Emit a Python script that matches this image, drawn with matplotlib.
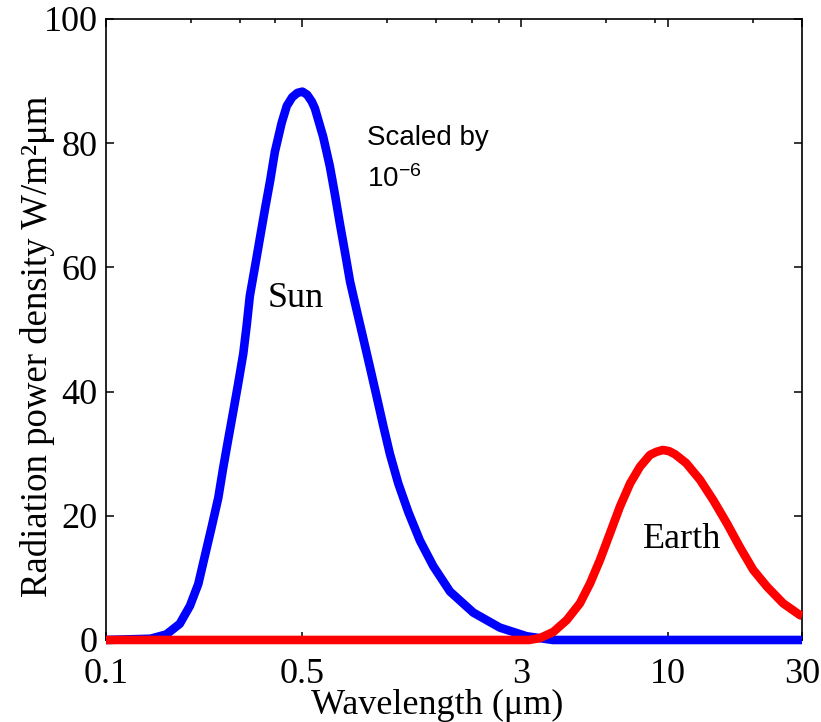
import matplotlib
matplotlib.use('Agg')
import matplotlib.pyplot as plt
from matplotlib.ticker import FixedLocator, FixedFormatter, NullFormatter

plt.rcParams['font.family'] = ['Liberation Serif', 'DejaVu Serif']
plt.rcParams['mathtext.fontset'] = 'custom'
plt.rcParams['mathtext.rm'] = 'Liberation Sans'
plt.rcParams['mathtext.it'] = 'Liberation Sans:italic'
plt.rcParams['mathtext.sf'] = 'Liberation Sans'

# ---- data ----
sun_wavelength = [0.10, 0.144, 0.164, 0.183, 0.199, 0.213, 0.225, 0.238, 0.251,
                  0.261, 0.272, 0.284, 0.296, 0.308, 0.317, 0.325, 0.339, 0.353,
                  0.368, 0.384, 0.399, 0.422, 0.440, 0.460, 0.480, 0.500, 0.520,
                  0.540, 0.554, 0.593, 0.626, 0.653, 0.680, 0.709, 0.739, 0.780,
                  0.824, 0.871, 0.919, 0.970, 1.025, 1.097, 1.191, 1.310, 1.461,
                  1.676, 2.03, 2.52, 3.14, 3.90, 30.0]
sun_power = [0.0, 0.2, 0.9, 2.6, 5.5, 9.0, 13.6, 18.3, 22.9,
             27.6, 32.2, 36.9, 41.5, 46.1, 50.8, 55.4, 60.1, 64.7,
             69.4, 74.0, 78.6, 83.3, 86.0, 87.4, 88.1, 88.3, 87.8,
             86.7, 85.6, 81.0, 76.3, 71.7, 67.0, 62.4, 57.7, 53.1,
             48.5, 43.8, 39.2, 34.5, 29.9, 25.2, 20.6, 16.0, 11.9,
             7.8, 4.4, 2.0, 0.6, 0.0, 0.0]

earth_wavelength = [0.10, 3.2, 3.50, 3.91, 4.36, 4.86, 5.28, 5.73, 6.22, 6.75,
                    7.33, 7.95, 8.63, 9.10, 9.60, 10.1, 10.6, 11.6, 13.0, 14.5,
                    16.2, 18.0, 20.1, 22.5, 25.7, 29.5, 30.0]
earth_power = [0.0, 0.0, 0.3, 1.3, 3.2, 5.9, 9.1, 12.9, 17.2, 21.5,
               25.2, 27.9, 29.8, 30.3, 30.6, 30.4, 29.9, 28.5, 25.8, 22.5,
               18.8, 15.0, 11.3, 8.6, 5.9, 4.0, 3.9]

x_major_ticks = [0.1, 0.5, 3, 10, 30]
x_major_labels = ['0.1', '0.5', '3', '10', '30']
x_minor_ticks = [0.2, 0.3, 0.4, 1, 1.5, 2, 2.5, 6, 9, 20]
y_ticks = [0, 20, 40, 60, 80, 100]

fig = plt.figure(figsize=(8.21, 7.22), dpi=100)
ax = fig.add_axes([0.1291, 0.1136, 0.8478, 0.8601])

ax.plot(sun_wavelength, sun_power, color='#0000ff', lw=6.2,
        solid_capstyle='butt', solid_joinstyle='round', clip_on=False, zorder=3)
ax.plot(earth_wavelength, earth_power, color='#ff0000', lw=6.2,
        solid_capstyle='butt', solid_joinstyle='round', clip_on=False, zorder=4)

ax.set_xscale('log')
ax.set_xlim(0.1, 30)
ax.set_ylim(0, 100)
ax.xaxis.set_major_locator(FixedLocator(x_major_ticks))
ax.xaxis.set_major_formatter(FixedFormatter(x_major_labels))
ax.xaxis.set_minor_locator(FixedLocator(x_minor_ticks))
ax.xaxis.set_minor_formatter(NullFormatter())
ax.yaxis.set_major_locator(FixedLocator(y_ticks))

ax.tick_params(which='both', direction='in', top=True, right=True, width=1.1)
ax.tick_params(which='major', length=6)
ax.tick_params(which='minor', length=3)
ax.tick_params(axis='both', labelsize=26)
ax.tick_params(axis='x', pad=13)
ax.tick_params(axis='y', pad=6)
for s in ax.spines.values():
    s.set_linewidth(1.2)

ax.set_xlabel('Wavelength (μm)', fontsize=26, va='center')
ax.xaxis.set_label_coords(0.4756, -0.105)
ax.set_ylabel('Radiation power density W/m²μm', fontsize=26.5, va='center')
ax.yaxis.set_label_coords(-0.099, 0.4726)

ax.text(0.377, 53.6, 'Sun', fontsize=26, ha='left', va='baseline')
ax.text(8.15, 14.8, 'Earth', fontsize=26, ha='left', va='baseline')
ax.text(0.849, 79.7, 'Scaled by', fontsize=20, family='Liberation Sans',
        ha='left', va='baseline')
ax.text(0.849, 72.9, r'$\mathsf{10^{-6}}$', fontsize=20, ha='left', va='baseline')

fig.savefig('out.png', dpi=100)
